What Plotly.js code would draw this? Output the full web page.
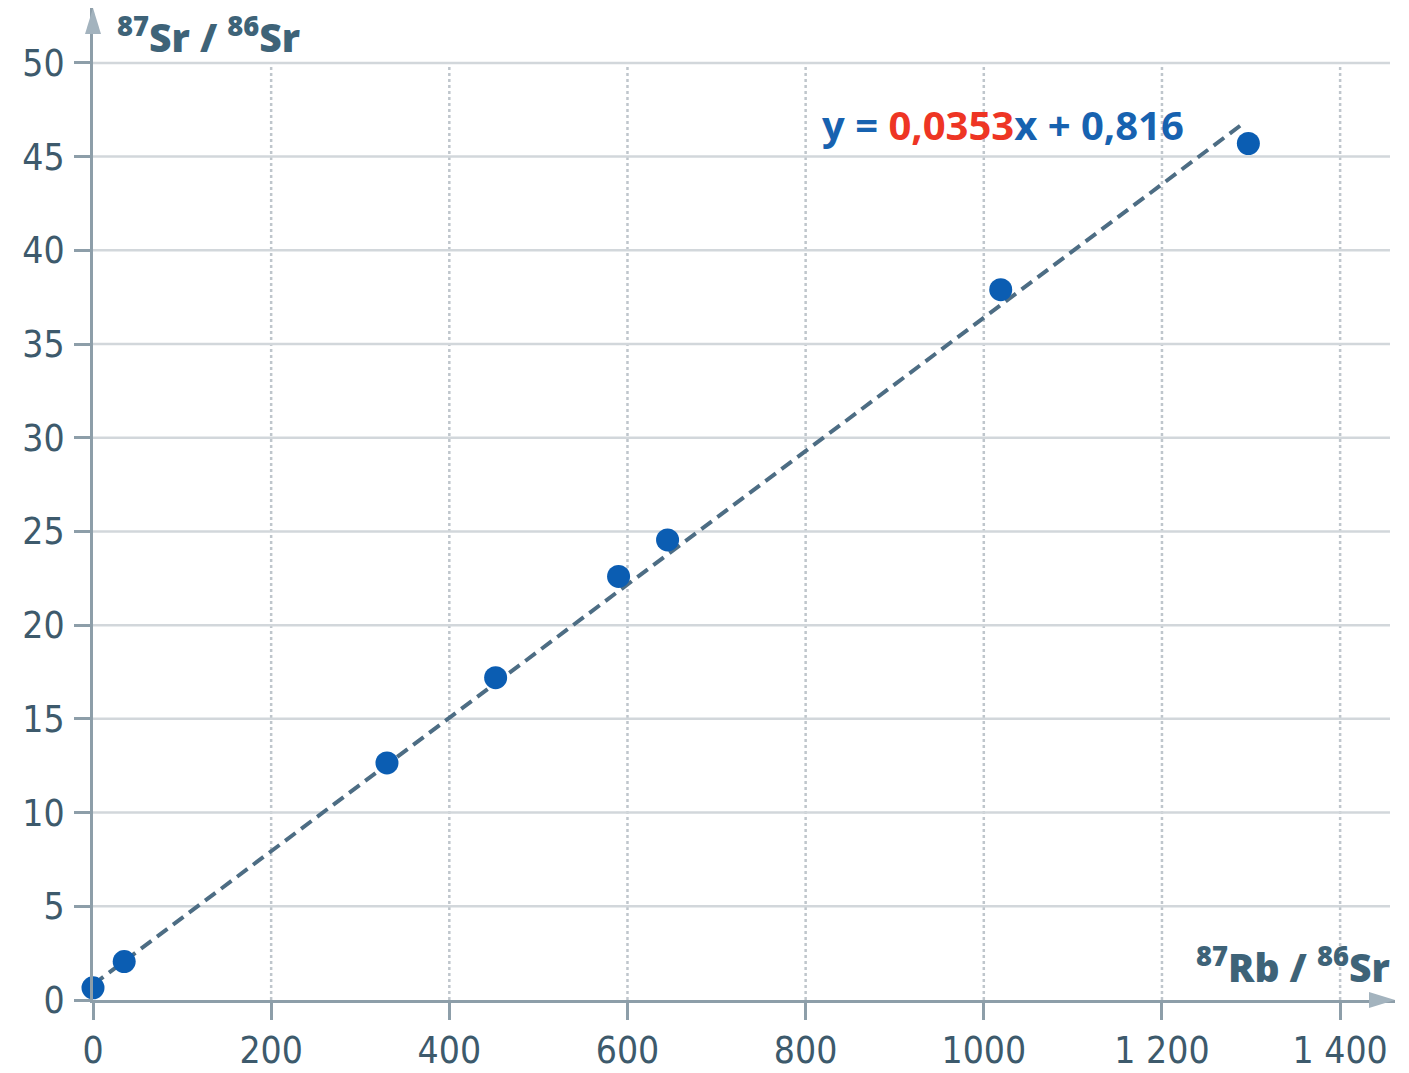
<!DOCTYPE html>
<html>
<head>
<meta charset="utf-8">
<script src="https://cdn.plot.ly/plotly-3.0.1.min.js"></script>
<style>
  html, body { margin: 0; padding: 0; background: #ffffff; }
  #chart { width: 1409px; height: 1073px; }
</style>
</head>
<body>
<div id="chart"></div>
<script>
// ---- data ----
const rbSr = [0, 35, 330, 452, 590, 645, 1019, 1297];          // 87Rb/86Sr
const srSr = [0.65, 2.05, 12.65, 17.2, 22.6, 24.55, 37.9, 45.7]; // 87Sr/86Sr
const fitX = [0, 1292];
const fitY = [0.82, 46.8];
const xTickVals = [0, 200, 400, 600, 800, 1000, 1200, 1400];
const xTickText = ["0", "200", "400", "600", "800", "1000", "1 200", "1 400"];
const yTickVals = [0, 5, 10, 15, 20, 25, 30, 35, 40, 45, 50];
const yTickText = ["0", "5", "10", "15", "20", "25", "30", "35", "40", "45", "50"];
const equationText = "y = <span style='color:#ee3524'>0,0353</span>x + 0,816";
const yTitleText = "<sup>87</sup>Sr / <sup>86</sup>Sr";
const xTitleText = "<sup>87</sup>Rb / <sup>86</sup>Sr";

// ---- layout constants ----
const W = 1409, H = 1073;
const M = {l: 93, r: 14, t: 8, b: 73};
const plotW = W - M.l - M.r, plotH = H - M.t - M.b;
const xMax = 1461.6, yMax = 52.93;
const gridXEnd = 1456, gridYEnd = 50;
const axisColor = "#8d9ea9";
const labelColor = "#3d5a6c";
const titleColor = "#3e6378";

const shapes = [];
xTickVals.forEach(v => {
  if (v === 0) return;
  shapes.push({type: "line", xref: "x", yref: "y", x0: v, x1: v, y0: 0, y1: gridYEnd,
    line: {color: "#bfc6cc", width: 2.5, dash: "dot"}, layer: "below"});
});
yTickVals.forEach(v => {
  if (v === 0) return;
  shapes.push({type: "line", xref: "x", yref: "y", x0: 0, x1: gridXEnd, y0: v, y1: v,
    line: {color: "#d2d7db", width: 2.5}, layer: "below"});
});
// arrowheads at ends of axes (paper coords)
const ahL = 26, ahW = 8;
shapes.push({type: "path", xref: "paper", yref: "paper",
  path: `M 1 0 L ${1 - ahL / plotW} ${ahW / plotH} L ${1 - ahL / plotW} ${-ahW / plotH} Z`,
  fillcolor: "#a3b3be", line: {width: 0}, layer: "above"});
shapes.push({type: "path", xref: "paper", yref: "paper",
  path: `M 0 1 L ${ahW / plotW} ${1 - ahL / plotH} L ${-ahW / plotW} ${1 - ahL / plotH} Z`,
  fillcolor: "#a3b3be", line: {width: 0}, layer: "above"});

const traces = [
  {x: fitX, y: fitY, mode: "lines", type: "scatter", hoverinfo: "skip",
   line: {color: "#4d6d84", width: 4, dash: "13px,7px"}, cliponaxis: false},
  {x: rbSr, y: srSr, mode: "markers", type: "scatter",
   marker: {color: "#0b5db2", size: 23, line: {width: 0}}, cliponaxis: false}
];

const tickFont = {family: "Liberation Sans Narrow, DejaVu Sans Condensed, sans-serif", size: 37, color: labelColor};

const layout = {
  width: W, height: H,
  margin: M,
  paper_bgcolor: "#ffffff", plot_bgcolor: "#ffffff",
  showlegend: false,
  xaxis: {range: [0, xMax], showgrid: false, zeroline: false,
    showline: true, linecolor: axisColor, linewidth: 3,
    ticks: "outside", ticklen: 17, tickwidth: 3, tickcolor: axisColor,
    tickmode: "array", tickvals: xTickVals, ticktext: xTickText,
    tickfont: tickFont, ticklabelstandoff: -1},
  yaxis: {range: [0, yMax], showgrid: false, zeroline: false,
    showline: true, linecolor: axisColor, linewidth: 3,
    ticks: "outside", ticklen: 16, tickwidth: 3, tickcolor: axisColor,
    tickmode: "array", tickvals: yTickVals, ticktext: yTickText,
    tickfont: tickFont, ticklabelstandoff: 2},
  shapes: shapes,
  annotations: [
    {xref: "paper", yref: "paper", x: (115 - M.l) / plotW, y: 1 - (35 - M.t) / plotH,
     xanchor: "left", yanchor: "middle", showarrow: false, text: yTitleText,
     font: {family: "Open Sans, sans-serif", size: 39, color: titleColor, weight: 800}},
    {xref: "paper", yref: "paper", x: (1392 - M.l) / plotW, y: 1 - (965 - M.t) / plotH,
     xanchor: "right", yanchor: "middle", showarrow: false, text: xTitleText,
     font: {family: "Open Sans, sans-serif", size: 39, color: titleColor, weight: 800}},
    {xref: "paper", yref: "paper", x: (1003 - M.l) / plotW, y: 1 - (124 - M.t) / plotH,
     xanchor: "center", yanchor: "middle", showarrow: false, text: equationText,
     font: {family: "Open Sans, sans-serif", size: 40, color: "#1762b0", weight: 700}}
  ]
};

Plotly.newPlot("chart", traces, layout, {displayModeBar: false, staticPlot: true});
</script>
</body>
</html>
